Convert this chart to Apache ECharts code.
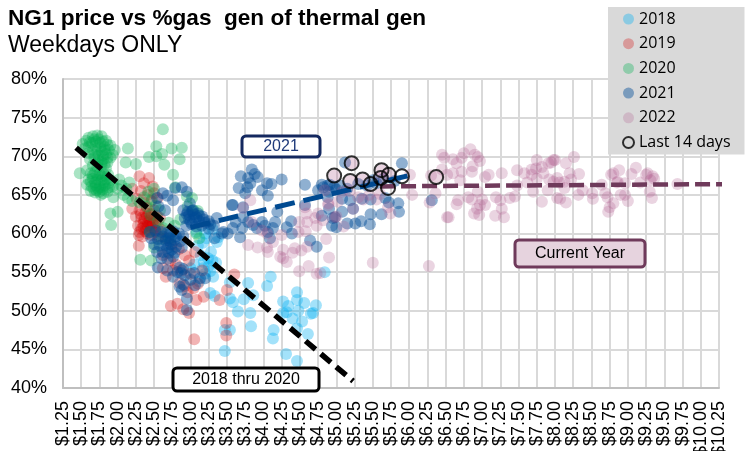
<!DOCTYPE html>
<html><head><meta charset="utf-8">
<style>html,body{margin:0;padding:0;background:#fff}#c{width:748px;height:451px}</style>
<script src="https://cdn.jsdelivr.net/npm/echarts@6/dist/echarts.min.js"></script>
</head><body><div id="c"></div>
<script>
const yLabelSuffix = '%';
const pts2018 = [[4.10,54.4],[4.05,53.2],[3.79,53.6],[3.86,52],[3.73,51.5],[3.54,51.6],[3.58,51.1],[3.65,49.9],[3.82,49.7],[3.83,48],[3.54,47.5],[3.47,47.5],[3.47,44.8],[3.27,52.3],[3.33,51.9],[3.54,53.7],[4.27,51.2],[4.34,50.6],[4.27,49.7],[4.32,49.8],[4.46,52.4],[4.46,51.4],[4.56,51],[4.48,50],[4.72,50.7],[4.68,49.7],[4.65,49.6],[4.4,49],[4.53,48.6],[4.46,47.7],[4.61,47],[4.14,47.5],[4.13,46.4],[4.31,44.4],[4.46,43.5],[4.84,55],[3.24,56.8],[3.3,56.5],[3.17,55.5],[3.25,55.8],[3.1,58.4],[3.17,58.8],[3.31,54.4],[3.27,55.1],[3.2,54.8],[3.35,56.2],[3.22,59.4],[3.14,57.2],[3.05,56],[3.2,60],[3.3,60.6],[3.36,58.9],[3.12,53.8],[3.0,55.5],[3.28,57.6],[3.18,56.3],[3.38,59.5],[3.08,60.2]];
const pts2019 = [[3.05,46.3],[3.49,48.4],[3.49,46.8],[2.73,50.6],[2.82,50.9],[2.9,50.2],[2.98,49.7],[3.08,51.4],[3.18,51.8],[3.4,51.4],[3.6,54.7],[3.5,52.7],[2.96,52.4],[2.29,59.8],[2.29,58.4],[2.66,54.4],[2.62,55.5],[2.3,67.4],[2.43,67.2],[2.36,66.5],[2.48,66.1],[2.2,65.8],[2.32,65.5],[2.41,65],[2.5,65.2],[2.26,64.5],[2.36,64],[2.46,64.2],[2.55,64.6],[2.2,63.2],[2.3,63],[2.4,63.3],[2.5,63],[2.25,62.2],[2.33,62],[2.4,62.2],[2.46,62],[2.54,62.3],[2.28,61],[2.35,61.2],[2.41,61],[2.48,61.3],[2.55,61],[2.3,60.2],[2.38,60.3],[2.45,60.4],[2.52,60.2],[2.6,60.5],[2.35,60.8],[2.44,61.7],[2.38,62.7],[2.5,61.8],[2.58,62],[2.66,59.4],[2.74,58.5],[2.84,58],[2.92,57.2],[2.98,56.5],[3.06,57.6],[2.72,56.5],[2.8,56],[2.88,55.2],[3.0,54.8],[2.62,57.2],[3.1,53.5],[3.04,52.9],[2.85,53.6],[2.92,53.2],[2.76,55.2],[3.16,55.2],[2.36,61.6],[2.42,61.4],[2.46,60.8],[2.39,60.7],[2.33,60.6],[2.5,60.7],[2.44,61.1],[2.37,61.9],[2.43,62.6],[2.32,62.5],[2.52,61.4],[2.47,62.5],[2.41,60],[2.34,59.6],[2.46,59.8],[2.56,59.6]];
const pts2020 = [[1.52,71.6],[1.57,72],[1.6,72.4],[1.66,72.6],[1.72,72.7],[1.78,72.6],[1.84,72],[1.9,71.4],[1.96,70.8],[1.55,71],[1.6,71.2],[1.65,71.7],[1.7,71.9],[1.76,71.7],[1.82,71.2],[1.88,70.8],[1.93,70.2],[1.6,70.4],[1.66,70.8],[1.72,70.7],[1.78,70.6],[1.84,70.3],[1.9,69.8],[1.62,69.6],[1.68,69.8],[1.74,69.5],[1.8,69.6],[1.86,69.2],[1.66,68.8],[1.72,68.6],[1.78,68.8],[1.84,68.4],[1.58,68.2],[1.63,67.8],[1.69,67.9],[1.75,67.7],[1.8,67.8],[1.87,67.6],[1.6,67],[1.66,67.1],[1.72,67],[1.78,66.9],[1.84,67],[1.9,66.9],[1.58,66.3],[1.64,66.1],[1.7,66.2],[1.76,66],[1.82,66.2],[1.88,66],[1.93,66.1],[1.63,65.5],[1.69,65.3],[1.75,65.4],[1.8,65.2],[1.86,65.4],[1.48,67.8],[2.14,71],[2.11,69.2],[2.25,69],[2.53,71.3],[2.43,69.9],[2.53,70],[2.61,70.3],[2.64,68.9],[2.74,71],[2.88,71.1],[2.85,69.6],[2.76,67.6],[2.79,66],[1.94,64.7],[1.9,62.6],[2.0,62.8],[1.91,61.1],[2.31,56.6],[2.62,73.5],[2.0,65.8],[2.05,66.2],[2.12,65.8],[2.16,66.6],[2.08,65],[2.14,64.6],[2.2,64.2],[2.02,67],[2.5,65.8],[2.42,65.4],[2.36,64.7],[2.47,64.4],[2.3,64],[2.4,63.5],[2.52,63.6],[2.58,63],[2.45,62.4],[2.55,61.6],[2.62,60.7],[2.7,61.4],[2.78,61],[2.86,61.8],[2.96,63.5],[3.02,64.6],[3.04,63],[2.95,64.8],[2.72,59.4],[2.6,59.3],[2.5,58.2],[2.46,56.5],[2.44,60.2],[3.1,62.9],[3.08,60],[3.12,59.4],
[1.62,71.8],[1.68,72.2],[1.74,72.2],[1.8,71.9],[1.7,71.3],[1.76,71.1],[1.82,70.8],[1.86,71.5],[1.68,70.2],[1.74,70.1],[1.8,70.1],[1.86,69.8],[1.72,69.1],[1.78,69.2],[1.82,69],[1.66,67.5],[1.72,67.5],[1.78,67.4],[1.84,67.4],[1.69,66.6],[1.75,66.5],[1.81,66.6],[1.87,66.5],[1.67,65.8],[1.73,65.8],[1.79,65.7],[1.85,65.8],[1.63,66.7],[1.71,65.6],[1.77,65]];
const pts2021 = [[3.84,68.3],[3.69,67.4],[3.88,67.7],[3.92,67.3],[3.79,67.2],[3.82,66.5],[3.66,65.9],[3.78,66],[3.75,65.2],[4.25,67],[4.05,66.5],[4.11,66.4],[3.98,65.6],[4.06,64.9],[3.57,63.7],[3.72,63.4],[4.19,62.8],[4.57,66.3],[4.8,66.3],[4.88,66.2],[4.97,66],[4.9,65.4],[4.75,65.6],[3.45,60.2],[3.51,60],[3.58,60.7],[3.62,61.5],[3.68,59.5],[3.72,62.1],[3.79,61.5],[3.71,60.7],[3.86,61.1],[3.91,60.7],[3.98,61.5],[4.02,61],[4.06,60.2],[4.09,59.4],[4.16,61.5],[4.13,60.7],[4.32,60.8],[4.38,61.6],[4.39,60],[4.64,59.1],[4.73,58.3],[4.57,63.7],[4.95,62],[4.8,62.3],[4.9,63.2],[5.0,60.8],[5.12,69.2],[5.9,69.1],[5.5,66.9],[4.82,66],[4.91,66.3],[5.0,65.7],[4.88,64.7],[5.08,64.5],[5.19,64.3],[5.35,64.5],[5.47,64.4],[5.67,64.6],[5.72,64],[5.85,63.9],[5.86,62.8],[5.62,62.5],[5.47,62.5],[5.46,61.2],[5.34,61.6],[5.26,61.3],[5.15,61.3],[5.23,63.2],[5.08,62.8],[4.98,62.1],[4.94,61],[6.31,64.3],[5.05,66.2],[5.15,65.8],[5.3,66.4],[5.42,66.2],[5.55,66.5],[5.65,67.1],[5.8,66.8],
[2.88,66],[2.79,65.9],[2.95,65.4],[2.62,65.2],[2.54,64.6],[2.68,64.9],[2.76,64.3],[2.99,63.9],[2.56,63.5],[2.65,63],[2.9,63],[2.96,62.8],[3.03,63],[3.1,62.6],[3.16,62.2],[2.92,62],[2.98,61.8],[3.05,62],[3.12,61.6],[3.2,61.4],[2.94,61],[3.02,61.2],[3.08,60.9],[3.15,61],[3.36,62],[3.58,63.7],[3.33,59.4],[3.43,60],[3.27,61.2],[3.32,61],[3.25,60.6],
[2.44,60.2],[2.52,60.4],[2.6,60.2],[2.68,60.1],[2.76,60.3],[2.84,60],[2.9,59.6],[2.46,59.4],[2.55,59.3],[2.62,59.6],[2.7,59.4],[2.78,59.2],[2.86,59],[2.5,58.6],[2.58,58.4],[2.66,58.5],[2.73,58.6],[2.8,58.3],[2.88,58.2],[2.54,57.6],[2.62,57.6],[2.7,57.5],[2.78,57.5],[2.6,56.8],[2.68,56.7],[2.76,57],[2.85,55.6],[2.9,55.4],[2.82,55],[2.87,54.9],[2.92,54.6],[2.55,55.6],[2.76,54.4],[2.85,53.1],[3.06,53.3],[3.13,54.2],[3.2,54.2],[3.0,54],[2.95,50.1],[2.88,52.7],[2.95,51.6],[2.68,55.2],[2.9,53.4],[3.05,54.9],
[2.66,59.1],[2.72,59],[2.68,58.1],[2.74,57.9],[2.8,59.6],[2.72,60],[2.98,62.4],[3.05,62.5],[3.0,61.5],[3.08,62.1],[3.12,62.3],[2.95,62.5],[3.02,62.9],[3.18,61.8],[3.25,61.6]];
const pts2022 = [[6.45,70.2],[6.48,69.8],[6.6,69.6],[6.65,69.1],[6.75,70.4],[6.72,69.8],[6.84,70.9],[6.9,70.2],[6.94,69.9],[6.97,69.4],[6.87,68.7],[6.86,68],[6.72,68],[6.45,68.3],[6.52,67.6],[6.6,67.8],[6.7,66.9],[7.04,67.3],[7.09,67.6],[7.27,67.8],[7.48,68.2],[7.58,67.8],[7.68,67.6],[7.75,69.5],[7.74,68.4],[7.68,68.3],[7.82,68.6],[7.84,67.8],[7.75,67.1],[7.91,69.1],[7.98,69.5],[7.62,66.6],[7.48,66.2],[6.94,65.4],[6.81,64.7],[6.86,64.4],[7.0,64.4],[6.97,63.7],[7.04,63.7],[6.93,63.2],[6.89,62.6],[6.96,62.4],[6.67,64.3],[6.65,63.8],[6.54,62.1],[7.18,62.3],[7.3,62.1],[7.27,63.2],[7.19,64.7],[7.25,64.3],[7.38,64.6],[7.45,64.8],[7.7,65.4],[7.82,64.1],[8.03,64.6],[7.92,67],[8.06,66.6],
[8.0,69.5],[7.95,69.2],[8.15,69.1],[8.26,69.9],[8.2,67.8],[8.33,67.7],[8.03,67.2],[7.98,66.7],[8.13,66.7],[8.22,67],[7.9,65.6],[8.13,65.9],[8.32,65],[8.38,65.6],[8.51,65.2],[8.52,64.5],[8.07,64.5],[8.15,64],[8.69,65.2],[8.72,64.7],[8.8,63.9],[8.75,63.4],[8.73,62.8],[8.8,67.8],[8.77,67.6],[8.88,68.2],[8.64,66.3],[8.86,66.7],[8.96,66.5],[8.96,65],[8.9,65],[9.0,64.2],[9.05,67.7],[9.11,68.5],[9.27,67.8],[9.25,67.6],[9.34,67.4],[9.36,67.1],[9.31,66.9],[9.17,66.6],[9.3,65.4],[9.33,64.6],[9.68,66.4],[8.85,66.6],
[3.82,64.3],[3.72,63.3],[3.79,58.5],[3.92,58.2],[3.98,60.4],[4.05,60],[3.84,61.5],[4.05,58.2],[4.06,57.6],[4.13,58.9],[4.25,59.8],[4.27,57.9],[4.23,57],[4.27,56.8],[4.32,56.3],[4.43,58.1],[4.52,57.8],[4.6,58.3],[4.4,57.5],[4.49,55.1],[4.62,55.8],[4.73,54.8],[4.9,56.9],[4.86,59.3],[4.49,61.5],[4.6,61.5],[4.71,62],[4.57,63.4],[4.59,62.6],[4.75,62.6],[4.73,61],[4.58,60.3],[4.48,60.2],[4.89,63.9],[4.98,62.1],[4.78,54.9],[5.1,60.9],
[5.5,56.2],[6.27,55.8],[6.52,62.1],[6.04,65],[6.28,64],[6.36,65.2],[6.3,67.5],[6.01,67.6],[5.37,64.4],[5.55,64.4],[5.71,63.4],[5.74,62.6],[5.23,63.2],[5.02,64.1],[4.89,63.7],[4.82,61.7],[5.0,62.2],[5.19,66.8],[4.97,67.5],[5.21,69.1],[5.36,67],[5.62,68.2],[5.61,67.2],[5.72,67.6],[6.37,67.3],[5.45,65],[5.3,64.7],[5.18,65.5],[5.6,65.1],[5.08,65.4],[4.84,65.6]];
const ptsLast14 = [[4.97,67.5],[5.21,69.1],[5.19,66.8],[5.36,67],[5.47,66.4],[5.62,68.2],[5.61,67.2],[5.72,67.6],[5.71,65.9],[5.9,67.4],[6.37,67.3]];
const trend2018to2020 = [[1.43,71.1],[5.23,40.9]];
const trend2021 = [[3.0,60.8],[6.04,67.6]];
const trendCurrent = [[5.6,66.1],[10.43,66.4]];
const legendNames = ['2018','2019','2020','2021','2022','Last 14 days'];
const xMin = 1.25, xMax = 10.25, xStep = 0.25;
const yMin = 40, yMax = 80, yStep = 5;

const FONT = '"Liberation Sans", Arial, sans-serif';
function scatter(name, data, color){
  return {name, type:'scatter', data, symbol:'circle', symbolSize:12, itemStyle:{color, borderWidth:0}, silent:true, z:2};
}
function trend(data, color, dash, width){
  return {type:'line', data, symbol:'none', clip:false, silent:true, z:4,
    lineStyle:{color, width, type:dash, cap:'butt'}};
}
function box(x,y,w,h,fill,stroke,txt,color,size){
  return {type:'group', z:100, children:[
    {type:'rect', shape:{x,y,width:w,height:h,r:4}, style:{fill,stroke,lineWidth:3}, z:100},
    {type:'text', style:{x:x+w/2,y:y+h/2,text:txt,fill:color,font:size+'px '+FONT,align:'center',verticalAlign:'middle'}, z:101}
  ]};
}
const chart = echarts.init(document.getElementById('c'), null, {renderer:'canvas'});
chart.setOption({
  animation:false,
  backgroundColor:'#fff',
  title:{text:'NG1 price vs %gas  gen of thermal gen', subtext:'Weekdays ONLY', left:8, top:7, padding:0, itemGap:4,
    textStyle:{fontFamily:FONT,fontWeight:'bold',fontSize:22.6,color:'#000'},
    subtextStyle:{fontFamily:FONT,fontSize:23,color:'#000'}},
  grid:{left:63,right:29,top:79,bottom:63,outerBoundsMode:'none'},
  legend:{data:legendNames.map(n=>({name:n})), orient:'vertical', left:608, top:7, padding:[4,14,4,14], itemGap:8.7, itemWidth:11, itemHeight:11,
    backgroundColor:'#d9d9d9', icon:'circle', z:50, selectedMode:false,
    textStyle:{fontFamily:'"Open Sans", sans-serif',fontSize:16,color:'#000'}},
  xAxis:{type:'value',min:xMin,max:xMax,interval:xStep,
    axisLine:{show:true,onZero:false,lineStyle:{color:'#bfbfbf',width:2}},
    axisTick:{show:false},
    splitLine:{show:true,lineStyle:{color:'#d9d9d9',width:2}},
    axisLabel:{rotate:90,margin:13,fontFamily:FONT,fontSize:18,color:'#000',formatter:v=>'$'+v.toFixed(2),hideOverlap:false}},
  yAxis:{type:'value',min:yMin,max:yMax,interval:yStep,
    axisLine:{show:true,onZero:false,lineStyle:{color:'#bfbfbf',width:2}},
    axisTick:{show:false},
    splitLine:{show:true,lineStyle:{color:'#d9d9d9',width:2}},
    axisLabel:{margin:16,fontFamily:FONT,fontSize:18,color:'#000',formatter:v=>v+yLabelSuffix}},
  series:[
    scatter('2018',pts2018,'rgba(0,176,240,0.45)'),
    scatter('2019',pts2019,'rgba(210,0,0,0.37)'),
    scatter('2020',pts2020,'rgba(0,176,80,0.42)'),
    scatter('2021',pts2021,'rgba(0,76,151,0.55)'),
    scatter('2022',pts2022,'rgba(176,90,142,0.33)'),
    trend(trend2018to2020,'#000',[13,7],5.5),
    trend(trend2021,'#004a91',[20,9],5),
    trend(trendCurrent,'#6f3a5b',[15,6],4.5),
    {name:'Last 14 days',type:'scatter',data:ptsLast14,symbol:'circle',symbolSize:14,silent:true,z:5,
      itemStyle:{color:'rgba(0,0,0,0)',borderColor:'#000',borderWidth:2}}
  ],
  graphic:[
    box(242,136,78,21,'#fff','#14285f','2021','#1f3a7a',16),
    box(173,368,146,23,'#fff','#000','2018 thru 2020','#000',16),
    box(515,240,130,27,'#e6d3de','#6f3a5b','Current Year','#000',16)
  ]
});
</script></body></html>
